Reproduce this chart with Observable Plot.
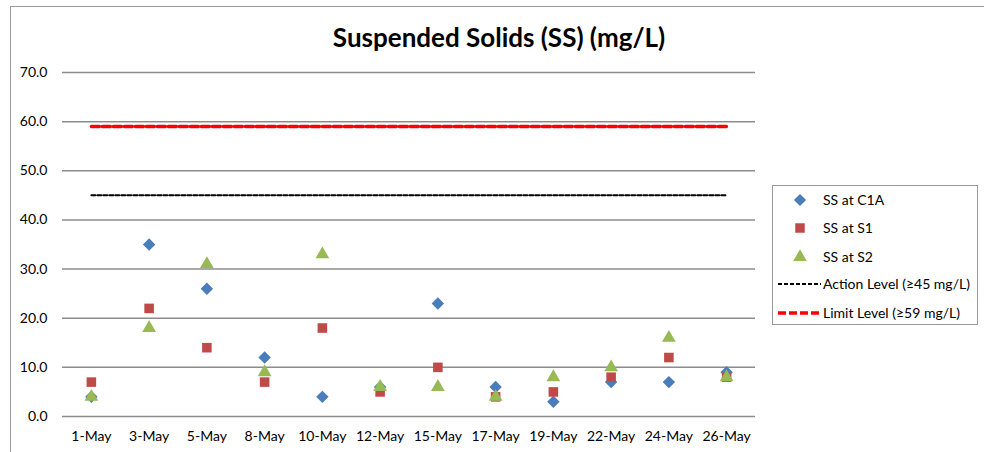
<!DOCTYPE html>
<html>
<head>
<meta charset="utf-8">
<script src="https://cdn.jsdelivr.net/npm/d3@7"></script>
<script src="https://cdn.jsdelivr.net/npm/@observablehq/plot@0.6"></script>
<style>
  html, body { margin: 0; padding: 0; background: #fff; }
  #wrap { position: relative; width: 984px; height: 452px; overflow: hidden; font-family: Lato, "Open Sans", sans-serif; }
  #border { position: absolute; left: 10px; top: 6px; width: 1000px; height: 500px; border-left: 1.5px solid #9a9a9a; border-top: 1.5px solid #9a9a9a; }
  #title { position: absolute; left: 0; width: 998px; top: 21px; text-align: center; font-weight: bold; font-size: 26px; line-height: 32px; color: #000; }
  #legend { position: absolute; left: 772px; top: 185px; width: 206px; height: 140px; border: 1px solid #9a9a9a; background: #fff; box-sizing: border-box; }
  .li { position: absolute; left: 0; height: 20px; font-size: 14px; color: #000; }
  .li svg { position: absolute; left: 5px; top: 0; }
  .li span { position: absolute; left: 50px; top: 1px; white-space: nowrap; }
  #chart { position: absolute; left: 0; top: 0; }
</style>
</head>
<body>
<div id="wrap">
  <div id="border"></div>
  <div id="chart"></div>
  <div id="title">Suspended Solids (SS) (mg/L)</div>
  <div id="legend"></div>
</div>
<script>
const dates = ["1-May","3-May","5-May","8-May","10-May","12-May","15-May","17-May","19-May","22-May","24-May","26-May"];
const ssC1A = [4, 35, 26, 12, 4, 6, 23, 6, 3, 7, 7, 9];
const ssS1  = [7, 22, 14, 7, 18, 5, 10, 4, 5, 8, 12, 8];
const ssS2  = [4, 18, 31, 9, 33, 6, 6, 4, 8, 10, 16, 8];
const actionLevel = 45;
const limitLevel = 59;
const yTicks = [0, 10, 20, 30, 40, 50, 60, 70];
const seriesNames = ["SS at C1A", "SS at S1", "SS at S2"];
const lineNames = ["Action Level (\u226545 mg/L)", "Limit Level (\u226559 mg/L)"];

const colors = {c1a: "#4a7ebb", s1: "#be4b48", s2: "#98b954"};
const toRows = (vals) => dates.map((d, i) => ({d, v: vals[i]}));
const actionRows = [{d: dates[0], v: actionLevel}, {d: dates[dates.length - 1], v: actionLevel}];
const limitRows = [{d: dates[0], v: limitLevel}, {d: dates[dates.length - 1], v: limitLevel}];

const chart = Plot.plot({
  width: 984,
  height: 452,
  marginLeft: 62,
  marginRight: 229,
  marginTop: 72,
  marginBottom: 36,
  style: {fontFamily: "Lato, 'Open Sans', sans-serif", fontSize: "14px", color: "#000", background: "transparent"},
  x: {type: "point", domain: dates, padding: 0.5, round: false, label: null},
  y: {domain: [0, 70], ticks: yTicks, tickFormat: d3.format(".1f"), label: null},
  marks: [
    Plot.ruleY(yTicks, {stroke: "#8c8c8c", strokeWidth: 1.5}),
    Plot.ruleX([0], {frameAnchor: "left", y1: 0, y2: 70, stroke: "#8c8c8c", strokeWidth: 1.5}),
    Plot.axisY({ticks: yTicks, tickSize: 0, tickPadding: 15, tickFormat: d3.format(".1f"), fontSize: 14}),
    Plot.axisX({tickSize: 0, tickPadding: 15, fontSize: 14}),
    Plot.line(actionRows, {x: "d", y: "v", stroke: "#000", strokeWidth: 2, strokeDasharray: "4,2"}),
    Plot.line(limitRows, {x: "d", y: "v", stroke: "#ff0000", strokeWidth: 3.5, strokeDasharray: "8,3"}),
    Plot.dot(toRows(ssC1A), {x: "d", y: "v", symbol: "diamond2", fill: colors.c1a, r: 5.6}),
    Plot.dot(toRows(ssS1), {x: "d", y: "v", symbol: "square", fill: colors.s1, r: 5.4}),
    Plot.dot(toRows(ssS2), {x: "d", y: "v", symbol: "triangle", fill: colors.s2, r: 5.1})
  ]
});
document.getElementById("chart").appendChild(chart);

// Legend
const legend = document.getElementById("legend");
const items = [
  {name: seriesNames[0], type: "sym", sym: d3.symbolDiamond2, color: colors.c1a, size: 95},
  {name: seriesNames[1], type: "sym", sym: d3.symbolSquare, color: colors.s1, size: 90},
  {name: seriesNames[2], type: "sym", sym: d3.symbolTriangle, color: colors.s2, size: 80},
  {name: lineNames[0], type: "line", color: "#000", w: 2, dash: "4,2"},
  {name: lineNames[1], type: "line", color: "#ff0000", w: 3.5, dash: "8,3"}
];
const tops = [4, 32, 61, 88, 117];
items.forEach((it, i) => {
  const div = document.createElement("div");
  div.className = "li";
  div.style.top = tops[i] + "px";
  div.style.width = "200px";
  const svg = d3.create("svg").attr("width", 44).attr("height", 20);
  if (it.type === "sym") {
    svg.append("path").attr("d", d3.symbol(it.sym, it.size)()).attr("transform", "translate(22,10)").attr("fill", it.color);
  } else {
    svg.append("line").attr("x1", 0).attr("x2", 43).attr("y1", 10).attr("y2", 10)
      .attr("stroke", it.color).attr("stroke-width", it.w).attr("stroke-dasharray", it.dash);
  }
  div.appendChild(svg.node());
  const span = document.createElement("span");
  span.textContent = it.name;
  div.appendChild(span);
  legend.appendChild(div);
});
</script>
</body>
</html>
